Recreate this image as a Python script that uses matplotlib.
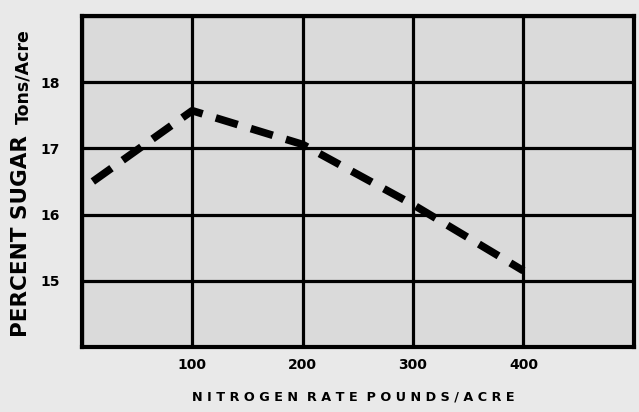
import numpy as np
import matplotlib
matplotlib.use('Agg')
from matplotlib import pyplot as plt

# Nitrogen rate vs percent sugar
nitrogen = [10, 100, 200, 300, 400]
sugar = [16.5, 17.57, 17.06, 16.15, 15.15]

x_ticks = [100, 200, 300, 400]
y_ticks = [15, 16, 17, 18]

plt.rcParams['font.family'] = ['DejaVu Sans']

fig = plt.figure(figsize=(6.39, 4.12), dpi=100)
fig.patch.set_facecolor('#e9e9e9')
ax = fig.add_axes([0.128, 0.158, 0.864, 0.803])
ax.set_facecolor('#dadada')

ax.plot(nitrogen, sugar, color='black', linewidth=5.5, linestyle=(0, (3.0, 1.8)),
        solid_capstyle='butt', dash_capstyle='butt', zorder=3)

ax.set_xlim(0, 500)
ax.set_ylim(14, 19)
ax.set_xticks(range(0, 501, 100))
ax.set_yticks(range(14, 20))
ax.grid(True, color='black', linewidth=2.3)
ax.set_axisbelow(True)
for s in ax.spines.values():
    s.set_linewidth(3)

ax.set_xticklabels(['' if v not in x_ticks else str(v) for v in range(0, 501, 100)],
                   fontweight='bold', fontsize=10)
ax.set_yticklabels(['' if v not in y_ticks else str(v) for v in range(14, 20)],
                   fontweight='bold', fontsize=10)
ax.tick_params(axis='x', length=0, pad=8)
ax.tick_params(axis='y', length=0, pad=16)

fig.text(0.553, 0.036, 'N I T R O G E N   R A T E   P O U N D S / A C R E'.replace('   ', '  '),
         ha='center', va='center', fontsize=9.2, fontweight='bold')
fig.text(0.033, 0.427, 'PERCENT SUGAR', rotation=90, ha='center', va='center',
         fontsize=15.5, fontweight='bold')
fig.text(0.036, 0.815, 'Tons/Acre', rotation=90, ha='center', va='center',
         fontsize=12.5, fontweight='bold')

plt.savefig('out.png', dpi=100, facecolor=fig.get_facecolor())
